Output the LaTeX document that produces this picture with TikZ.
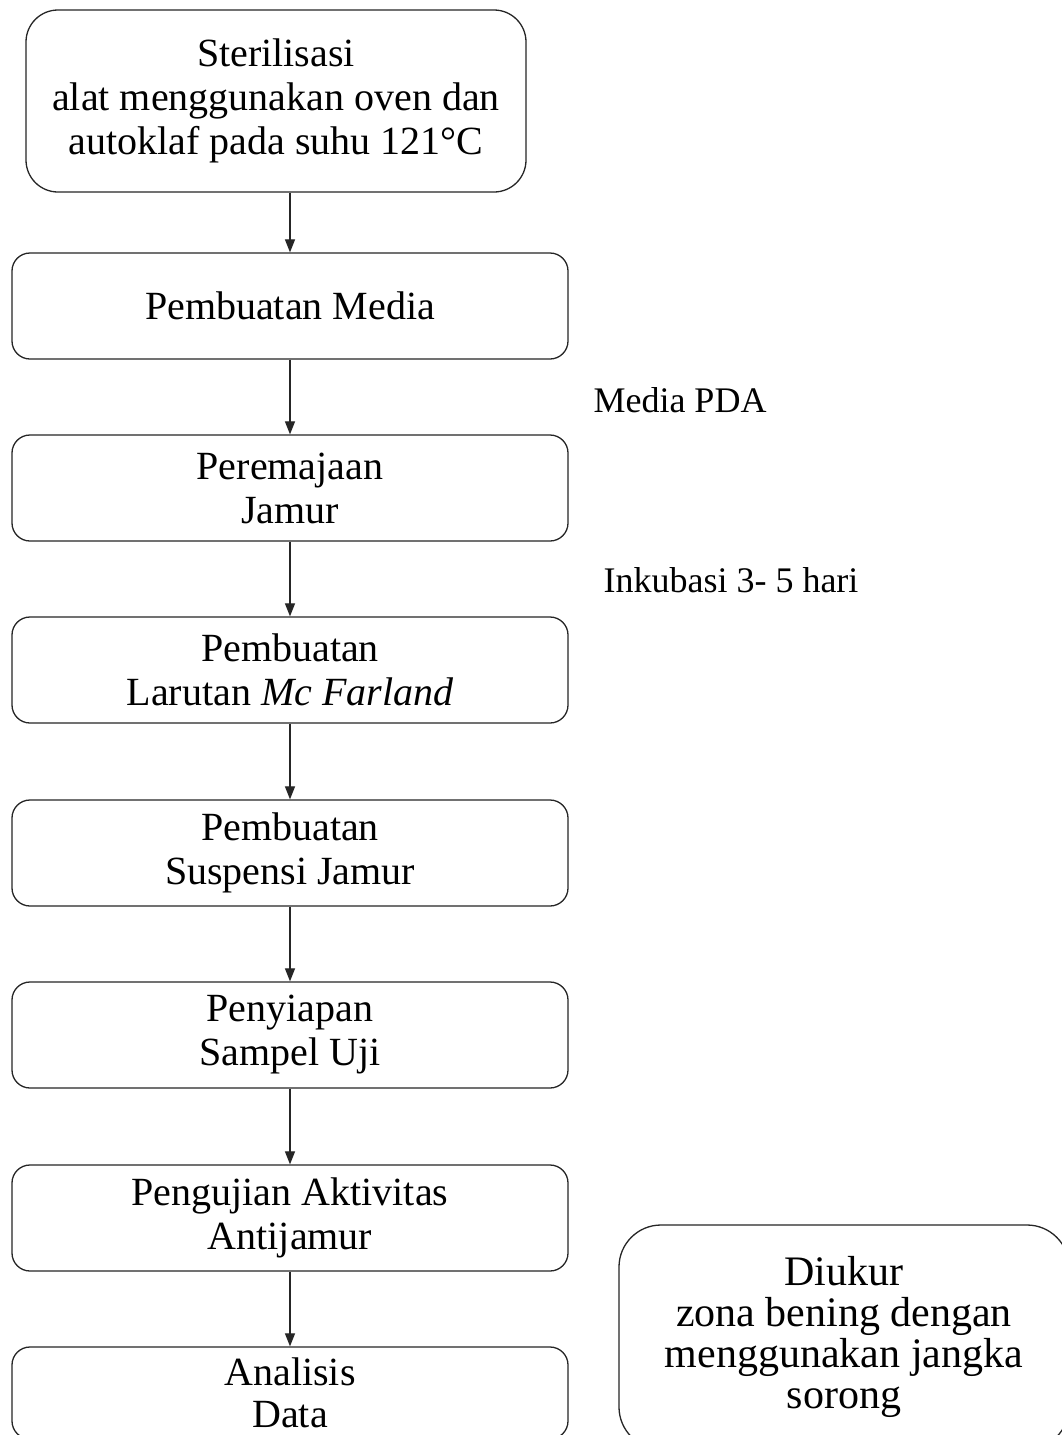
\documentclass[tikz,border=0pt]{standalone}
\usepackage{fontspec}
\setmainfont{Liberation Serif}
\usetikzlibrary{arrows.meta}
\begin{document}
\begin{tikzpicture}[x=1pt,y=-1pt,
  box/.style={draw=black!85,line width=1.3pt,rounded corners=18pt,inner sep=0pt,
    minimum width=556pt,minimum height=106pt,align=center,
    font=\fontsize{40}{44}\selectfont},
  arr/.style={draw=black!85,line width=1.2pt,-{Triangle[length=13pt,width=10pt]}},
  lbl/.style={inner sep=0pt,font=\fontsize{36}{40}\selectfont}]
\useasboundingbox (0,0) rectangle (1062,1435);
\clip (0,0) rectangle (1062,1435);
\fill[white] (0,0) rectangle (1062,1435);
\node[box,rounded corners=32pt,minimum width=500pt,minimum height=182pt] (b1) at (276,101)
  {Sterilisasi\\alat menggunakan oven dan\\autoklaf pada suhu 121°C};
\node[box] (b2) at (290,306) {Pembuatan Media};
\node[box] (b3) at (290,488) {Peremajaan\\Jamur};
\node[box] (b4) at (290,670) {Pembuatan\\Larutan \textit{Mc Farland}};
\node[box] (b5) at (290,853) {Pembuatan\\Suspensi Jamur};
\node[box] (b6) at (290,1035) {Penyiapan\\Sampel Uji};
\node[box] (b7) at (290,1218) {Pengujian Aktivitas\\Antijamur};
\node[box,minimum height=92pt,font=\fontsize{40}{42}\selectfont] (b8) at (290,1393) {Analisis\\Data};
\node[box,rounded corners=42pt,minimum width=450pt,minimum height=224pt,
  font=\fontsize{42}{41}\selectfont] (r1) at (844,1337)
  {Diukur\\zona bening dengan\\menggunakan jangka\\sorong};
\node[lbl] (l1) at (680,400) {Media PDA};
\node[lbl] (l2) at (731,580) {Inkubasi 3- 5 hari};
\draw[arr] (b1.south -| b2.north) -- (b2.north);
\draw[arr] (b2) -- (b3);
\draw[arr] (b3) -- (b4);
\draw[arr] (b4) -- (b5);
\draw[arr] (b5) -- (b6);
\draw[arr] (b6) -- (b7);
\draw[arr] (b7) -- (b8);
\end{tikzpicture}
\end{document}
